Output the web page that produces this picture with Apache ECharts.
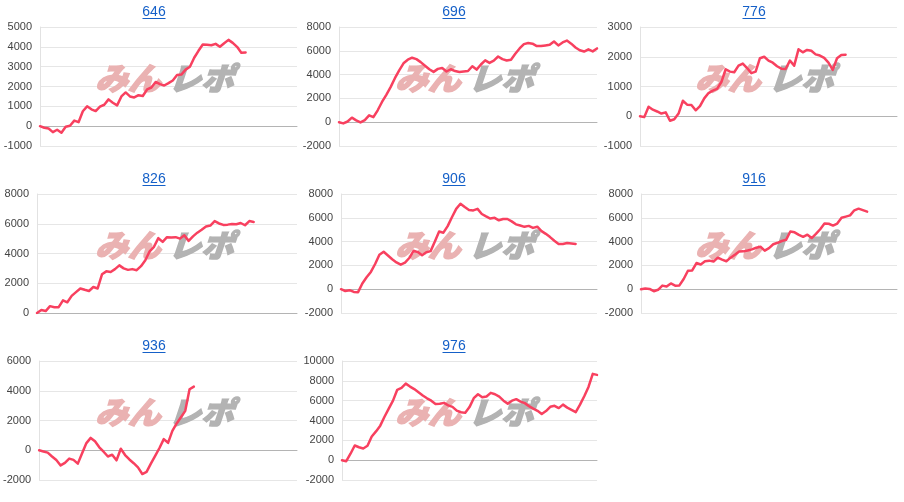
<!DOCTYPE html>
<html>
<head>
<meta charset="utf-8">
<script src="https://cdn.jsdelivr.net/npm/echarts@6/dist/echarts.min.js"></script>
<style>
html,body{margin:0;padding:0;background:#fff;}
#c{width:904px;height:502px;}
</style>
</head>
<body>
<div id="c"></div>
<script>
// x slots (games), shared by all panels
const slots = Array.from({length: 61}, (_, i) => String(i));

const titles = ['646', '696', '776', '826', '906', '916', '936', '976'];

const s646 = [0,-80,-120,-300,-180,-330,-30,20,280,200,750,1000,850,760,980,1080,1350,1180,1050,1500,1700,1500,1450,1560,1520,1850,1950,2230,2120,2050,2170,2300,2580,2600,2850,3000,3450,3800,4120,4100,4080,4150,4000,4180,4350,4200,4000,3700,3720];
const s696 = [0,-100,60,380,150,-20,180,580,420,1000,1700,2300,2950,3700,4350,4950,5250,5420,5300,5050,4750,4450,4230,4480,4550,4260,4450,4300,4220,4260,4300,4700,4420,4850,5200,4980,5180,5520,5300,5180,5250,5750,6200,6560,6650,6600,6400,6400,6450,6500,6780,6450,6700,6860,6600,6280,6050,5940,6120,5950,6200];
const s776 = [0,-30,320,220,160,90,130,-150,-100,90,520,390,380,200,340,600,780,860,920,1150,1580,1500,1480,1700,1770,1620,1450,1500,1950,2000,1870,1800,1680,1600,1590,1870,1700,2250,2150,2230,2200,2080,2040,1960,1800,1560,1950,2060,2070];
const s826 = [0,200,130,460,390,390,850,720,1150,1400,1650,1560,1480,1750,1650,2600,2800,2760,2950,3200,3000,2900,2950,2880,3150,3550,4150,4450,5030,4780,5100,5070,5100,5000,5220,4850,5150,5400,5600,5820,5880,6180,6020,5920,5940,5990,5970,6050,5900,6180,6120];
const s906 = [0,-150,-80,-230,-250,480,1000,1450,2120,2900,3150,2830,2520,2250,2060,2230,2620,3230,3120,2860,3110,3200,4000,4850,4750,5300,6050,6750,7180,6900,6650,6620,6750,6320,6120,5940,6000,5790,5900,5900,5700,5450,5350,5240,5320,5150,5250,4880,4650,4380,4070,3800,3800,3880,3840,3800];
const s916 = [0,60,20,-170,-50,300,220,480,300,320,860,1550,1580,2200,2080,2350,2400,2320,2650,2480,2350,2650,2900,3170,3180,3250,3350,3480,3570,3240,3450,3780,3900,4050,4150,4850,4780,4560,4400,4580,4300,4650,5040,5520,5500,5350,5520,6000,6100,6200,6630,6770,6650,6520];
const s936 = [0,-80,-160,-420,-660,-1020,-850,-560,-650,-900,-200,480,830,600,200,-100,-420,-300,-680,100,-320,-620,-870,-1150,-1600,-1450,-900,-380,150,750,500,1300,1800,2220,2650,4100,4280];
const s976 = [0,-100,650,1480,1300,1180,1450,2380,2900,3480,4380,5200,6000,7100,7300,7720,7420,7170,6850,6520,6240,6000,5660,5690,5780,5530,5380,5000,4830,4770,5350,6250,6650,6350,6420,6790,6650,6400,6000,5700,6000,6150,5900,5750,5450,5200,4980,4650,4950,5380,5480,5250,5600,5300,5080,4850,5600,6450,7380,8700,8600];

const series_values = [s646, s696, s776, s826, s906, s916, s936, s976];
const yMin = [-1000, -2000, -1000, 0, -2000, -2000, -2000, -2000];
const yMax = [5000, 8000, 3000, 8000, 8000, 8000, 6000, 10000];
const yStep = [1000, 2000, 1000, 2000, 2000, 2000, 2000, 2000];

// layout
const colX = [0, 300, 600];
const rowY = [0, 167, 334];
const axisLeft = [40, 39, 40, 37, 41, 41, 38, 42];

const LINE = '#f8405f';
const FONT = 'Liberation Sans, Arial, sans-serif';
const grids = [], xAxes = [], yAxes = [], series = [], graphics = [];

titles.forEach((t, i) => {
  const x0 = colX[i % 3], y0 = rowY[Math.floor(i / 3)];
  const left = x0 + axisLeft[i];
  grids.push({left: left, top: y0 + 27, width: x0 + 297 - left, height: 119});
  xAxes.push({
    type: 'category', gridIndex: i, data: slots, boundaryGap: false,
    axisLine: {show: true, onZero: true, lineStyle: {color: '#b4b4b4', width: 1}},
    axisTick: {show: false}, axisLabel: {show: false}, splitLine: {show: false}
  });
  yAxes.push({
    type: 'value', gridIndex: i, min: yMin[i], max: yMax[i], interval: yStep[i],
    axisLine: {show: true, lineStyle: {color: '#e2e2e2'}},
    axisTick: {show: false},
    axisLabel: {color: '#444', fontSize: 11, fontFamily: FONT, margin: 8,
      formatter: v => String(v)},
    splitLine: {lineStyle: {color: '#e6e6e6', width: 1}}
  });
  series.push({
    type: 'line', xAxisIndex: i, yAxisIndex: i, data: series_values[i],
    showSymbol: false, symbol: 'none', smooth: false, z: 10,
    lineStyle: {color: LINE, width: 2.5, join: 'round', cap: 'round'},
    animation: false
  });
  // title link text
  graphics.push({
    type: 'text', x: x0 + 154, y: y0 + 12, z: 20,
    style: {text: t, fill: '#1560c8', fontSize: 14, fontFamily: FONT,
      align: 'center', verticalAlign: 'middle'}
  });
  graphics.push({
    type: 'rect', shape: {x: x0 + 142.5, y: y0 + 18, width: 23, height: 1}, z: 20,
    style: {fill: '#1560c8'}
  });
  // watermark
  graphics.push({
    type: 'text', x: x0 + 99, y: y0 + 78, z: 1, silent: true, skewX: -0.32, scaleX: 1.05,
    style: {text: 'みん', fill: '#eab2b2', stroke: '#eab2b2', lineWidth: 1.5,
      fontSize: 31, fontWeight: 900, fontFamily: 'Noto Sans CJK JP', verticalAlign: 'middle'}
  });
  graphics.push({
    type: 'text', x: x0 + 172, y: y0 + 78, z: 1, silent: true, skewX: -0.32, scaleX: 1.05,
    style: {text: 'レポ', fill: '#b3b3b3', stroke: '#b3b3b3', lineWidth: 1.5,
      fontSize: 31, fontWeight: 900, fontFamily: 'Noto Sans CJK JP', verticalAlign: 'middle'}
  });
});

const chart = echarts.init(document.getElementById('c'), null, {renderer: 'canvas'});
chart.setOption({
  animation: false,
  backgroundColor: '#fff',
  grid: grids, xAxis: xAxes, yAxis: yAxes, series: series,
  graphic: graphics
});
</script>
</body>
</html>
